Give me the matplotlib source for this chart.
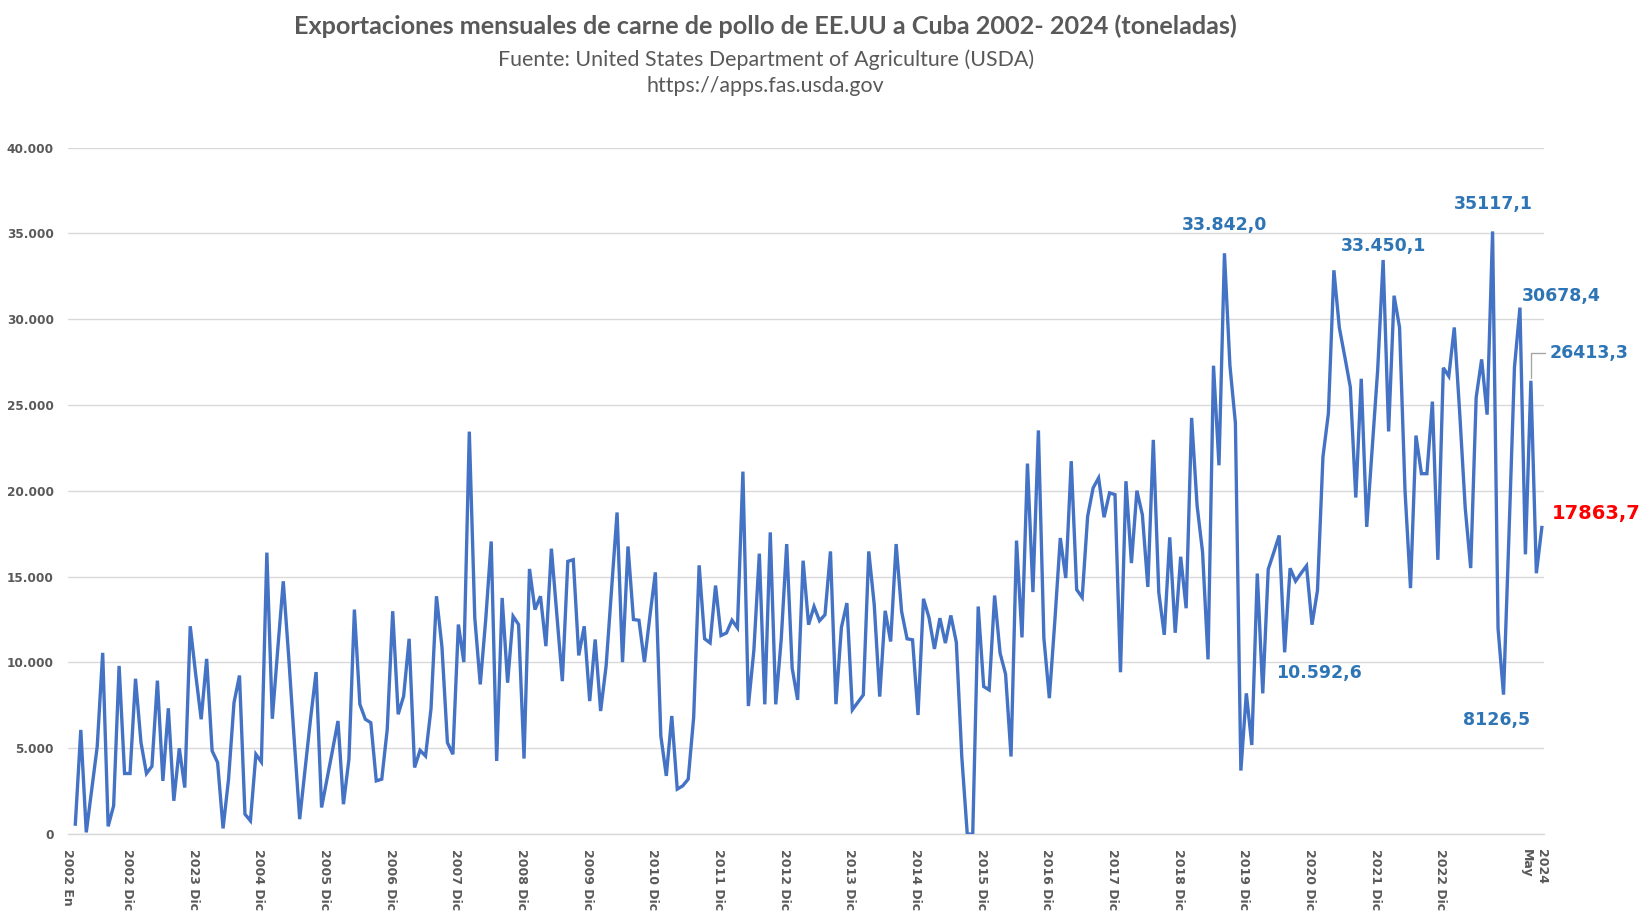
import matplotlib
matplotlib.use("Agg")
import matplotlib.pyplot as plt
from matplotlib.transforms import ScaledTranslation
from matplotlib.ticker import FuncFormatter

# Monthly exports (tonnes), 2002 Jan .. 2024 May
values = [
    580, 6070, 100, 2600, 5100, 10560, 450, 1650, 9800, 3530, 3530, 9050,          # 2002
    5330, 3530, 3950, 8940, 3100, 7330, 1940, 5000, 2710, 12110, 9300, 6690,       # 2003
    10210, 4850, 4170, 330, 3200, 7660, 9240, 1160, 775, 4650, 4200, 16400,        # 2004
    6720, 10800, 14730, 10300, 5500, 870, 3800, 6750, 9440, 1550, 3200, 4880,      # 2005
    6590, 1740, 4360, 13080, 7560, 6690, 6490, 3100, 3200, 6100, 12985, 6980,      # 2006
    8040, 11380, 3880, 4880, 4550, 7300, 13860, 10900, 5330, 4650, 12210, 10020,   # 2007
    23450, 12600, 8720, 12500, 17050, 4260, 13760, 8820, 12690, 12210, 4400, 15450, # 2008
    13080, 13860, 10950, 16630, 12770, 8910, 15890, 15990, 10410, 12110, 7750, 11340, # 2009
    7170, 9800, 14300, 18740, 10020, 16760, 12500, 12460, 10020, 12690, 15250, 5720, # 2010
    3390, 6880, 2620, 2810, 3200, 6800, 15660, 11380, 11140, 14480, 11570, 11720,  # 2011
    12460, 12020, 21120, 7460, 10700, 16340, 7560, 17580, 7560, 11340, 16900, 9670, # 2012
    7820, 15930, 12200, 13260, 12430, 12780, 16470, 7570, 12040, 13460, 7240, 7680, # 2013
    8110, 16470, 13360, 8010, 13010, 11220, 16900, 12970, 11380, 11320, 6940, 13710, # 2014
    12620, 10790, 12580, 11130, 12740, 11180, 4500, 0, 0, 13260, 8600, 8400,       # 2015
    13900, 10540, 9320, 4520, 17100, 11460, 21590, 14100, 23520, 11420, 7920, 12400, # 2016
    17250, 14920, 21730, 14240, 13790, 18520, 20170, 20750, 18460, 19880, 19780, 9430, # 2017
    20560, 15790, 20010, 18600, 14400, 22970, 14080, 11610, 17290, 11730, 16160, 13160, # 2018
    24250, 19140, 16430, 10180, 27290, 21490, 33842.0, 27300, 23960, 3700, 8200, 5190, # 2019
    15180, 8200, 15430, 16400, 17400, 10592.6, 15490, 14740, 15200, 15630, 12200, 14200, # 2020
    21980, 24530, 32850, 29500, 27800, 26050, 19610, 26530, 17900, 22500, 27040, 33450.1, # 2021
    23460, 31370, 29520, 20000, 14330, 23220, 21000, 21000, 25200, 15980, 27170, 26680, # 2022
    29520, 24500, 19000, 15500, 25440, 27660, 24440, 35117.1, 11980, 8126.5, 17500, 27200, # 2023
    30678.4, 16300, 26413.3, 15200, 17863.7,                                        # 2024
]

tick_pos = [0] + [11 + 12 * k for k in range(21)] + [268]
tick_labels = (["2002 En", "2002 Dic", "2023 Dic"]
               + [f"{y} Dic" for y in range(2004, 2023)]
               + ["2024\nMay"])

# annotated points: index and label
ann_idx = [210, 239, 259, 264, 266, 268, 221, 261]
ann_txt = ["33.842,0", "33.450,1", "35117,1", "30678,4", "26413,3", "17863,7", "10.592,6", "8126,5"]

title = "Exportaciones mensuales de carne de pollo de EE.UU a Cuba 2002- 2024 (toneladas)"
subtitle = "Fuente: United States Department of Agriculture (USDA)\nhttps://apps.fas.usda.gov"

BLUE = "#4472C4"
LBL = "#2E75B6"
GRAY = "#595959"

fig = plt.figure(figsize=(16.41, 9.19), dpi=100)
ax = fig.add_axes([0.0414, 0.0924, 0.8995, 0.747])

x = list(range(len(values)))
ax.plot(x, values, color=BLUE, lw=2.4, solid_joinstyle="miter", zorder=3)

ax.set_xlim(-1.35, 268.4)
ax.set_ylim(0, 40000)
ax.set_yticks(range(0, 40001, 5000))
ax.yaxis.set_major_formatter(FuncFormatter(lambda v, p: f"{int(v):,}".replace(",", ".")))
ax.grid(axis="y", color="#D9D9D9", lw=1.0, zorder=0)
for s in ["top", "right", "left"]:
    ax.spines[s].set_visible(False)
ax.spines["bottom"].set_color("#D9D9D9")
ax.spines["bottom"].set_linewidth(1.0)
ax.tick_params(axis="y", length=0, pad=10, labelsize=8.7, labelcolor=GRAY)
for t in ax.get_yticklabels():
    t.set_fontweight("bold")

ax.set_xticks(tick_pos)
ax.set_xticklabels(tick_labels, rotation=-90, ha="center", va="top",
                   fontsize=9, color=GRAY, fontweight="bold", multialignment="left")
ax.tick_params(axis="x", length=0, pad=11)
off = ScaledTranslation(-8 / 100, 0, fig.dpi_scale_trans)
for t in ax.get_xticklabels():
    t.set_transform(t.get_transform() + off)

offsets = [(0, 28), (0, 14), (1, 27), (41, 12), (58, 28), (54, 14), (34, -21), (-7, -25)]
for i, txt, (dx, dy) in zip(ann_idx, ann_txt, offsets):
    red = txt == "17863,7"
    kw = {}
    if txt == "26413,3":
        kw["arrowprops"] = dict(arrowstyle="-", color="#A6A6A6", lw=1.0,
                                connectionstyle="angle,angleA=0,angleB=90,rad=0",
                                shrinkA=1, shrinkB=2, relpos=(0, 0.5))
    ax.annotate(txt, xy=(i, values[i]), xytext=(dx, dy), textcoords="offset pixels",
                ha="center", va="center", fontsize=14 if red else 12.5, fontweight="bold",
                color="#FF0000" if red else LBL, annotation_clip=False, zorder=4, **kw)

fig.text(0.4666, 0.9715, title, ha="center", va="center", fontsize=18.2,
         fontweight="bold", color=GRAY, family=["Lato", "DejaVu Sans"])
fig.text(0.4666, 0.921, subtitle, ha="center", va="center", fontsize=15.4,
         color=GRAY, family=["Lato", "DejaVu Sans"], linespacing=1.42)

fig.savefig("out.png", dpi=100, facecolor="white")
